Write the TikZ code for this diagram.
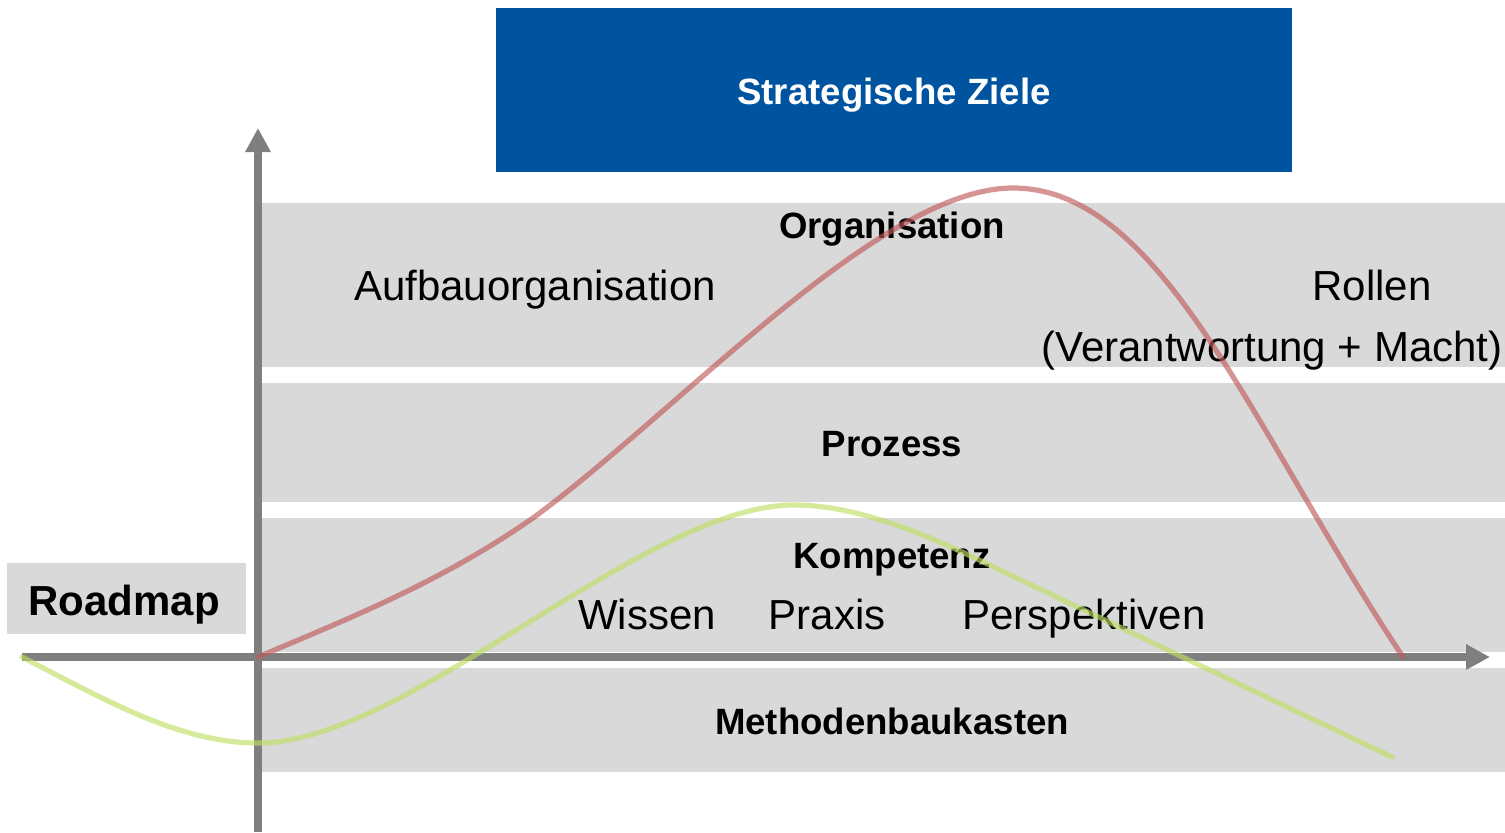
\documentclass[tikz,border=0pt]{standalone}
\usepackage{fontspec}
\setmainfont{Liberation Sans}
\usetikzlibrary{arrows.meta}
\definecolor{zielblau}{RGB}{0,84,159}
\definecolor{bandgrau}{RGB}{217,217,217}
\definecolor{achsgrau}{RGB}{127,127,127}
\definecolor{kurverot}{RGB}{192,90,90}
\definecolor{kurvegruen}{RGB}{190,222,100}

\begin{document}
\begin{tikzpicture}[x=0.5pt,y=-0.5pt,
  band/.style={fill=bandgrau,draw=none},
  titel/.style={anchor=base,font=\fontsize{18.3}{20}\selectfont\bfseries},
  eintrag/.style={anchor=base,font=\fontsize{21}{24}\selectfont},
  achse/.style={achsgrau,line width=4pt,-{Triangle[length=12pt,width=12pt]}},
  kurve/.style={line width=2.6pt,opacity=0.65,line cap=round}]
\useasboundingbox (0,0) rectangle (1505,832);
\fill[zielblau] (496,8) rectangle (1292,172);
\fill[band] (262,203) rectangle (1505,367);
\fill[band] (262,383) rectangle (1505,502);
\fill[band] (262,518) rectangle (1505,652);
\fill[band] (262,668) rectangle (1505,772);
\fill[band] (7,563) rectangle (246,634);
\node[titel,text=white] (ziele) at (894,104) {Strategische Ziele};
\node[titel] (orga) at (892,238) {Organisation};
\node[eintrag] (aufbau) at (535,300) {Aufbauorganisation};
\node[eintrag] (rollen) at (1372,300) {Rollen};
\node[eintrag] (macht) at (1272,361) {(Verantwortung + Macht)};
\node[titel] (prozess) at (892,456) {Prozess};
\node[titel] (kompetenz) at (892,568) {Kompetenz};
\node[eintrag] (wissen) at (647,629) {Wissen};
\node[eintrag] (praxis) at (827,629) {Praxis};
\node[eintrag] (persp) at (1084,629) {Perspektiven};
\node[titel] (methoden) at (892,734) {Methodenbaukasten};
\node[anchor=base,font=\fontsize{21}{24}\selectfont\bfseries] (roadmap) at (124,615) {Roadmap};
\coordinate (o) at (258,657);
\coordinate (yend) at (258,128);
\coordinate (ystart) at (258,832);
\coordinate (xstart) at (22,657);
\coordinate (xend) at (1490,657);
\draw[achse] (ystart) to (yend);
\draw[achse] (xstart) to (xend);
\draw[kurve,kurverot] (o) .. controls (350,618) and (441,582) .. (533,518)
  .. controls (680,410) and (880,188) .. (1013,188)
  .. controls (1163,188) and (1253,432) .. (1403,657);
\draw[kurve,kurvegruen] (xstart) .. controls (102,698) and (178,743) .. (258,743)
  .. controls (408,743) and (644,505) .. (794,505)
  .. controls (864,505) and (940,541) .. (1000,570) -- (1392,757);
\end{tikzpicture}
\end{document}
